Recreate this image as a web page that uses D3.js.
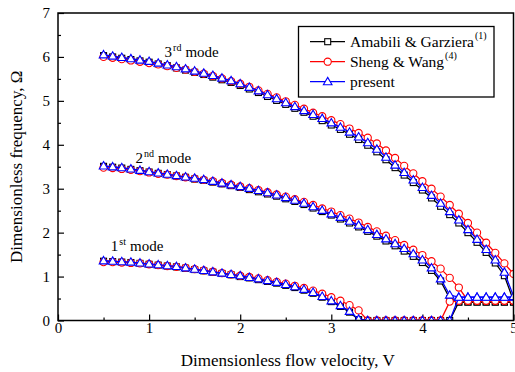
<!DOCTYPE html>
<html>
<head>
<meta charset="utf-8">
<script src="https://cdn.jsdelivr.net/npm/d3@7"></script>
<style>
  html, body { margin: 0; padding: 0; background: #fff; }
  svg { display: block; }
  svg text, svg tspan { font-family: "Liberation Serif", "Times New Roman", serif !important; }
</style>
</head>
<body>
<svg id="chart" width="515" height="372"></svg>
<script>
// ---- data ----
const velocity = [0.5,0.6,0.7,0.8,0.9,1.0,1.1,1.2,1.3,1.4,1.5,1.6,1.7,1.8,1.9,2.0,2.1,2.2,2.3,2.4,2.5,2.6,2.7,2.8,2.9,3.0,3.1,3.2,3.3,3.4,3.5,3.6,3.7,3.8,3.9,4.0,4.1,4.2,4.3,4.4,4.5,4.6,4.7,4.8,4.9,5.0];

// Amabili & Garziera
const amabiliMode1 = [1.35,1.34,1.33,1.32,1.30,1.28,1.26,1.24,1.22,1.19,1.16,1.13,1.10,1.07,1.04,1.00,0.97,0.93,0.89,0.85,0.80,0.75,0.69,0.62,0.53,0.43,0.32,0.19,0.02,0,0,0,0,0,0,0,0,0,0,0.42,0.42,0.42,0.42,0.42,0.42,0.42];
const amabiliMode2 = [3.51,3.49,3.47,3.44,3.41,3.38,3.35,3.32,3.29,3.26,3.22,3.19,3.15,3.11,3.07,3.03,2.98,2.93,2.88,2.83,2.77,2.71,2.64,2.56,2.48,2.40,2.31,2.22,2.13,2.03,1.92,1.81,1.70,1.58,1.46,1.32,1.14,0.90,0.50,0.42,0.42,0.42,0.42,0.42,0.42,0.42];
const amabiliMode3 = [6.03,6.00,5.97,5.94,5.91,5.88,5.84,5.80,5.75,5.70,5.65,5.60,5.54,5.48,5.42,5.35,5.27,5.19,5.10,5.01,4.92,4.83,4.74,4.65,4.55,4.45,4.35,4.24,4.12,3.99,3.84,3.66,3.48,3.31,3.14,2.97,2.79,2.60,2.41,2.22,2.00,1.78,1.55,1.31,1.02,0.45];

// Sheng & Wang
const shengMode1 = [1.33,1.33,1.32,1.31,1.30,1.28,1.26,1.24,1.22,1.20,1.17,1.14,1.11,1.08,1.05,1.02,0.99,0.96,0.92,0.88,0.84,0.79,0.74,0.68,0.61,0.53,0.45,0.35,0.23,0,0,0,0,0,0,0,0,0,0.43,0.45,0.45,0.45,0.45,0.45,0.45,0.45];
const shengMode2 = [3.48,3.47,3.45,3.43,3.40,3.37,3.34,3.32,3.29,3.26,3.23,3.20,3.17,3.13,3.09,3.05,3.01,2.97,2.92,2.87,2.82,2.76,2.70,2.63,2.55,2.48,2.40,2.32,2.23,2.13,2.03,1.93,1.83,1.72,1.61,1.49,1.35,1.18,0.97,0.75,0.45,0.45,0.45,0.45,0.45,0.45];
const shengMode3 = [6.00,5.98,5.95,5.92,5.89,5.86,5.83,5.79,5.75,5.71,5.66,5.62,5.57,5.51,5.45,5.39,5.32,5.24,5.16,5.08,4.99,4.91,4.82,4.73,4.65,4.56,4.47,4.37,4.27,4.16,4.03,3.87,3.70,3.52,3.35,3.17,3.00,2.82,2.63,2.43,2.22,2.00,1.77,1.54,1.30,1.06];

// present
const presentMode1 = [1.36,1.35,1.34,1.33,1.31,1.29,1.27,1.25,1.23,1.20,1.17,1.14,1.11,1.08,1.05,1.02,0.98,0.95,0.91,0.87,0.82,0.77,0.71,0.64,0.55,0.45,0.34,0.21,0.03,0,0,0,0,0,0,0,0,0,0,0.53,0.53,0.53,0.53,0.53,0.53,0.53];
const presentMode2 = [3.52,3.50,3.48,3.45,3.42,3.39,3.36,3.33,3.30,3.27,3.24,3.21,3.17,3.13,3.09,3.05,3.01,2.96,2.91,2.86,2.80,2.74,2.67,2.59,2.51,2.43,2.35,2.26,2.17,2.07,1.96,1.86,1.75,1.64,1.52,1.38,1.20,0.95,0.58,0.53,0.53,0.53,0.53,0.53,0.53,0.53];
const presentMode3 = [6.05,6.02,5.99,5.96,5.93,5.90,5.86,5.82,5.78,5.73,5.68,5.63,5.58,5.52,5.46,5.39,5.31,5.23,5.14,5.05,4.96,4.87,4.78,4.69,4.60,4.50,4.40,4.29,4.18,4.05,3.90,3.72,3.54,3.37,3.20,3.03,2.85,2.67,2.48,2.29,2.07,1.85,1.62,1.38,1.10,0.55];

const xTicks = [0,1,2,3,4,5];
const yTicks = [0,1,2,3,4,5,6,7];
const modeLabels = [
  {num: "1", sup: "st", v: 0.58, w: 1.58},
  {num: "2", sup: "nd", v: 0.85, w: 3.58},
  {num: "3", sup: "rd", v: 1.17, w: 6.0}
];

const seriesDefs = [
  {name: "Amabili & Garziera", ref: "(1)", color: "#000000", symbol: "square", modes: [amabiliMode1, amabiliMode2, amabiliMode3]},
  {name: "Sheng & Wang", ref: "(4)", color: "#ff0000", symbol: "circle", modes: [shengMode1, shengMode2, shengMode3]},
  {name: "present", ref: "", color: "#0000ff", symbol: "triangle", modes: [presentMode1, presentMode2, presentMode3]}
];

// ---- layout ----
const SERIF = "'Liberation Serif', 'Times New Roman', serif";
const svg = d3.select("#chart").style("font-family", SERIF);
const pLeft = 58, pRight = 513.5, pTop = 13, pBottom = 320.5;
const x = d3.scaleLinear().domain([0, 5]).range([pLeft, pRight]);
const y = d3.scaleLinear().domain([0, 7]).range([pBottom, pTop]);

svg.append("rect").attr("width", 515).attr("height", 372).attr("fill", "#fff");

svg.append("defs").append("clipPath").attr("id", "plotClip")
  .append("rect").attr("x", pLeft).attr("y", pTop).attr("width", pRight - pLeft).attr("height", pBottom - pTop);

// axes
const fontTick = 15;
const xAxis = svg.append("g").attr("transform", `translate(0,${pBottom})`)
  .call(d3.axisBottom(x).tickValues(xTicks).tickFormat(d3.format("d")).tickSize(-6).tickPadding(2));
const xMinor = svg.append("g").attr("transform", `translate(0,${pBottom})`)
  .call(d3.axisBottom(x).tickValues([0.5,1.5,2.5,3.5,4.5]).tickFormat("").tickSize(-3));
const yAxis = svg.append("g").attr("transform", `translate(${pLeft},0)`)
  .call(d3.axisLeft(y).tickValues(yTicks).tickFormat(d3.format("d")).tickSize(-6).tickPadding(8));
const yMinor = svg.append("g").attr("transform", `translate(${pLeft},0)`)
  .call(d3.axisLeft(y).tickValues([0.5,1.5,2.5,3.5,4.5,5.5,6.5]).tickFormat("").tickSize(-3));
[xAxis, xMinor, yAxis, yMinor].forEach(g => {
  g.attr("font-family", null).style("font-family", SERIF);
  g.select(".domain").remove();
  g.selectAll(".tick line").attr("stroke", "#000").attr("stroke-width", 1.2);
  g.selectAll("text").attr("font-size", fontTick).attr("fill", "#000").style("font-family", SERIF);
});

// data lines + markers
const plot = svg.append("g").attr("clip-path", "url(#plotClip)");
const line = d3.line().x(d => x(d[0])).y(d => y(d[1]));

function drawMarker(g, type, color, cx, cy) {
  if (type === "square") {
    g.append("rect").attr("x", cx - 3).attr("y", cy - 3).attr("width", 6).attr("height", 6)
      .attr("fill", "#fff").attr("stroke", color).attr("stroke-width", 1.1);
  } else if (type === "circle") {
    g.append("circle").attr("cx", cx).attr("cy", cy).attr("r", 3.6)
      .attr("fill", "#fff").attr("stroke", color).attr("stroke-width", 1.1);
  } else {
    const s = 4.3;
    g.append("path").attr("d", `M${cx},${cy - s}L${cx + s},${cy + s * 0.72}L${cx - s},${cy + s * 0.72}Z`)
      .attr("fill", "#fff").attr("stroke", color).attr("stroke-width", 1.1);
  }
}

seriesDefs.forEach(s => {
  const g = plot.append("g");
  s.modes.forEach(vals => {
    const pts = velocity.map((v, i) => [v, vals[i]]);
    g.append("path").datum(pts).attr("d", line).attr("fill", "none")
      .attr("stroke", s.color).attr("stroke-width", 1.3);
  });
  s.modes.forEach(vals => {
    velocity.forEach((v, i) => drawMarker(g, s.symbol, s.color, x(v), y(vals[i])));
  });
});

// frame
svg.append("rect").attr("x", pLeft).attr("y", pTop).attr("width", pRight - pLeft).attr("height", pBottom - pTop)
  .attr("fill", "none").attr("stroke", "#000").attr("stroke-width", 1.5);

// mode labels
modeLabels.forEach(m => {
  const t = svg.append("text").attr("x", x(m.v)).attr("y", y(m.w)).attr("font-size", 15)
    .attr("fill", "#000").style("font-family", SERIF);
  t.append("tspan").style("font-family", SERIF).text(m.num);
  t.append("tspan").style("font-family", SERIF).attr("font-size", 10).attr("dy", -6).attr("dx", 1).text(m.sup);
  t.append("tspan").style("font-family", SERIF).attr("dy", 6).attr("dx", 4).text("mode");
});

// legend
const lg = svg.append("g");
lg.append("rect").attr("x", 298.5).attr("y", 26.5).attr("width", 195.5).attr("height", 70.5)
  .attr("fill", "#fff").attr("stroke", "#000").attr("stroke-width", 1.3);
seriesDefs.forEach((s, i) => {
  const ly = 41.7 + i * 20;
  lg.append("line").attr("x1", 310).attr("x2", 345).attr("y1", ly).attr("y2", ly)
    .attr("stroke", s.color).attr("stroke-width", 1.3);
  drawMarker(lg, s.symbol, s.color, 327.7, ly);
  const t = lg.append("text").attr("x", 350).attr("y", ly + 5).attr("font-size", 15.5)
    .attr("fill", "#000").style("font-family", SERIF);
  t.append("tspan").style("font-family", SERIF).text(s.name);
  if (s.ref) t.append("tspan").style("font-family", SERIF).attr("font-size", 10).attr("dy", -8).attr("dx", 1).text(s.ref);
});

// axis titles
svg.append("text").attr("x", (pLeft + pRight) / 2 + 2).attr("y", 366).attr("text-anchor", "middle")
  .attr("font-size", 17).attr("fill", "#000").style("font-family", SERIF).text("Dimensionless flow velocity, V");
svg.append("text").attr("transform", `translate(22,${(pTop + pBottom) / 2}) rotate(-90)`)
  .attr("text-anchor", "middle").attr("font-size", 17).attr("fill", "#000").style("font-family", SERIF)
  .text("Dimensionless frequency, Ω");
</script>
</body>
</html>
